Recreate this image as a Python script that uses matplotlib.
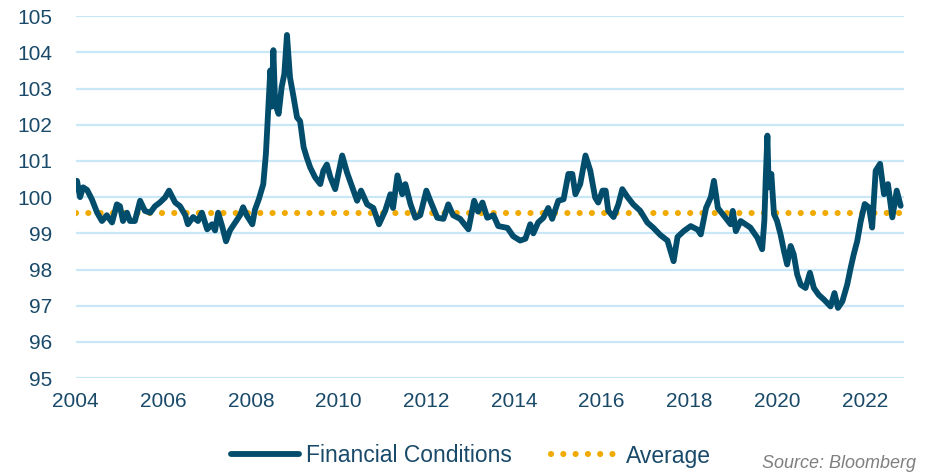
import matplotlib.pyplot as plt

plt.rcParams['font.family'] = ['Liberation Sans', 'DejaVu Sans']

# financial conditions index (decimal years)
years = [2004.00, 2004.03, 2004.10, 2004.17, 2004.26, 2004.37, 2004.49, 2004.60,
         2004.71, 2004.83, 2004.94, 2005.01, 2005.08, 2005.17, 2005.24, 2005.35,
         2005.47, 2005.58, 2005.70, 2005.81, 2005.92, 2006.04, 2006.13, 2006.27,
         2006.38, 2006.50, 2006.56, 2006.68, 2006.79, 2006.88, 2007.00, 2007.11,
         2007.18, 2007.25, 2007.34, 2007.43, 2007.52, 2007.64, 2007.75, 2007.82,
         2007.90, 2008.03, 2008.09, 2008.18, 2008.28, 2008.34, 2008.40, 2008.44,
         2008.47, 2008.51, 2008.55, 2008.63, 2008.70, 2008.76, 2008.82, 2008.89,
         2008.97, 2009.05, 2009.12, 2009.20, 2009.27, 2009.35, 2009.46, 2009.58,
         2009.65, 2009.73, 2009.81, 2009.92, 2010.08, 2010.19, 2010.31, 2010.42,
         2010.51, 2010.65, 2010.79, 2010.92, 2011.06, 2011.18, 2011.24, 2011.34,
         2011.45, 2011.52, 2011.64, 2011.75, 2011.86, 2012.00, 2012.09, 2012.25,
         2012.39, 2012.50, 2012.61, 2012.77, 2012.96, 2013.09, 2013.18, 2013.28,
         2013.39, 2013.53, 2013.64, 2013.85, 2013.98, 2014.14, 2014.26, 2014.37,
         2014.44, 2014.55, 2014.67, 2014.78, 2014.87, 2015.01, 2015.13, 2015.24,
         2015.33, 2015.40, 2015.51, 2015.63, 2015.74, 2015.85, 2015.92, 2016.02,
         2016.09, 2016.15, 2016.27, 2016.38, 2016.47, 2016.59, 2016.72, 2016.88,
         2017.04, 2017.18, 2017.34, 2017.50, 2017.64, 2017.73, 2017.87, 2018.03,
         2018.19, 2018.26, 2018.38, 2018.49, 2018.56, 2018.65, 2018.78, 2018.94,
         2018.99, 2019.06, 2019.17, 2019.39, 2019.55, 2019.66, 2019.71, 2019.74,
         2019.78, 2019.81, 2019.87, 2019.93, 2020.00, 2020.08, 2020.16, 2020.23,
         2020.31, 2020.38, 2020.46, 2020.54, 2020.65, 2020.75, 2020.84, 2020.95,
         2021.07, 2021.22, 2021.31, 2021.39, 2021.49, 2021.60, 2021.68, 2021.75,
         2021.83, 2021.91, 2022.00, 2022.10, 2022.17, 2022.25, 2022.35, 2022.44,
         2022.53, 2022.63, 2022.73, 2022.82]
values = [100.30, 100.45, 100.00, 100.27, 100.20, 99.94, 99.57, 99.34,
          99.50, 99.30, 99.80, 99.75, 99.34, 99.57, 99.34, 99.34,
          99.90, 99.62, 99.57, 99.75, 99.85, 99.99, 100.18, 99.85,
          99.75, 99.50, 99.25, 99.45, 99.34, 99.57, 99.11, 99.25,
          99.08, 99.57, 99.20, 98.78, 99.08, 99.30, 99.50, 99.72,
          99.50, 99.25, 99.65, 99.95, 100.36, 101.20, 102.60, 103.50,
          102.50, 104.06, 102.58, 102.30, 103.05, 103.40, 104.48, 103.30,
          102.77, 102.20, 102.10, 101.38, 101.10, 100.82, 100.55, 100.36,
          100.73, 100.90, 100.55, 100.22, 101.15, 100.68, 100.27, 99.90,
          100.18, 99.80, 99.70, 99.25, 99.62, 100.08, 99.70, 100.60,
          100.08, 100.36, 99.80, 99.43, 99.50, 100.18, 99.90, 99.43,
          99.40, 99.80, 99.50, 99.40, 99.11, 99.90, 99.60, 99.85,
          99.43, 99.50, 99.20, 99.15, 98.92, 98.80, 98.85, 99.25,
          99.00, 99.30, 99.43, 99.70, 99.40, 99.90, 99.94, 100.64,
          100.64, 100.08, 100.36, 101.15, 100.73, 99.99, 99.85, 100.18,
          100.18, 99.62, 99.45, 99.80, 100.22, 100.00, 99.80, 99.62,
          99.30, 99.15, 98.95, 98.80, 98.23, 98.90, 99.06, 99.20,
          99.10, 98.97, 99.70, 100.00, 100.45, 99.70, 99.50, 99.25,
          99.62, 99.06, 99.34, 99.16, 98.88, 98.56, 99.34, 100.45,
          101.70, 100.27, 100.64, 99.53, 99.34, 98.97, 98.50, 98.14,
          98.65, 98.42, 97.86, 97.58, 97.49, 97.91, 97.49, 97.30,
          97.17, 96.98, 97.35, 96.94, 97.12, 97.58, 98.05, 98.42,
          98.79, 99.34, 99.81, 99.71, 99.16, 100.73, 100.92, 100.08,
          100.36, 99.44, 100.18, 99.76]
average = 99.57

xticks = [2004, 2006, 2008, 2010, 2012, 2014, 2016, 2018, 2020, 2022]
yticks = [95, 96, 97, 98, 99, 100, 101, 102, 103, 104, 105]

navy = '#024C6C'
gold = '#F0AA00'
txt = '#1A4A6A'

fig = plt.figure(figsize=(9.33, 4.75), dpi=100)
ax = fig.add_axes([0.0811, 0.204, 0.888, 0.762])

ax.plot(years, values, color=navy, lw=4.2, solid_joinstyle='round',
        solid_capstyle='round', label='Financial Conditions', zorder=3)
ax.plot([2004, 2022.9], [average, average], color=gold, lw=4.4,
        linestyle=(0, (0.01, 2.0)), dash_capstyle='round',
        label='Average', zorder=2)

ax.set_xlim(2004, 2022.9)
ax.set_ylim(95, 105)
ax.set_xticks(xticks)
ax.set_yticks(yticks)
ax.grid(axis='y', color='#C8E8F8', lw=1.6)
ax.set_axisbelow(True)
for s in ax.spines.values():
    s.set_visible(False)
ax.tick_params(axis='both', length=0, labelsize=15, labelcolor=txt)
ax.tick_params(axis='y', pad=17)
ax.tick_params(axis='x', pad=10)

fig.legend(loc='center', bbox_to_anchor=(0.505, 0.04), ncol=2, frameon=False,
           fontsize=16.5, handlelength=2.97, handletextpad=0.3, columnspacing=1.7,
           labelcolor=txt)

fig.text(0.982, 0.025, 'Source: Bloomberg', ha='right', va='center',
         fontsize=13, style='italic', color='#7F7F7F')

fig.savefig('out.png', dpi=100)
